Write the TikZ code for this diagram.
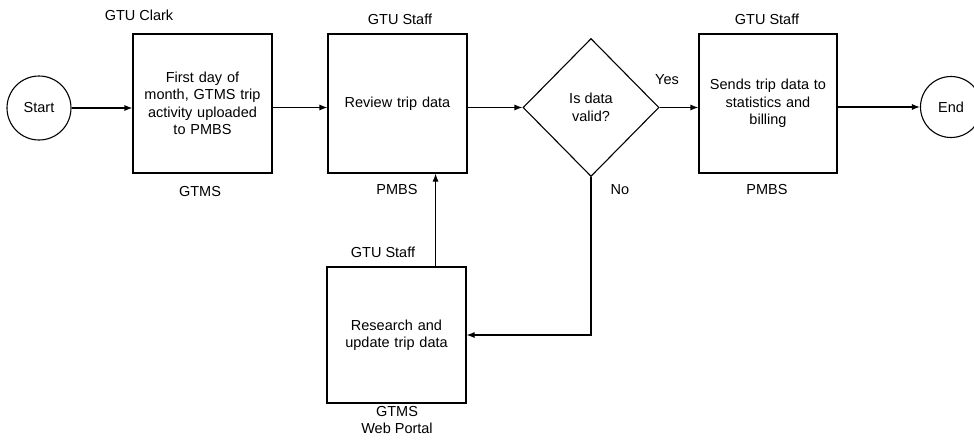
\documentclass[tikz,border=0pt]{standalone}
\usepackage{fontspec}
\setmainfont{Liberation Sans}
\usetikzlibrary{shapes.geometric,arrows.meta}
\begin{document}
\begin{tikzpicture}[x=1pt,y=-1pt,
  every node/.style={font=\fontsize{14.5}{17.5}\selectfont},
  proc/.style={draw,line width=1.1pt,minimum width=139pt,minimum height=139pt,inner sep=2pt,align=center,text width=128pt},
  term/.style={draw,circle,line width=1.1pt,inner sep=0pt},
  dec/.style={draw,diamond,line width=1.1pt,minimum width=136pt,minimum height=138pt,inner sep=0pt,align=center},
  arr/.style={line width=1.1pt,-{Latex[length=8pt,width=6pt]}},
  lbl/.style={inner sep=0pt,align=center}]
\useasboundingbox (0,0) rectangle (974,440);
\clip (0,0) rectangle (974,440);
\node[term,minimum size=64pt] (start) at (39,108) {Start};
\node[proc] (b1) at (202.5,103.5) {First day of\\month, GTMS trip\\activity uploaded\\to PMBS};
\node[proc] (b2) at (397.5,103.5) {Review trip data};
\node[dec] (d) at (591,107.5) {Is data\\valid?};
\node[proc,minimum width=138pt] (b3) at (768,103.5) {Sends trip data to\\statistics and\\billing};
\node[term,minimum size=61pt] (end) at (951,107) {End};
\node[proc,minimum height=136pt] (b4) at (396.5,335) {Research and\\update trip data};
% labels
\node[lbl] (l1) at (139,15) {GTU Clark};
\node[lbl] (l2) at (200,192) {GTMS};
\node[lbl] (l3) at (400,19) {GTU Staff};
\node[lbl] (l4) at (397,190) {PMBS};
\node[lbl] (l5) at (767,19) {GTU Staff};
\node[lbl] (l6) at (767,190) {PMBS};
\node[lbl] (l7) at (383,252) {GTU Staff};
\node[lbl] (l8) at (397,420) {GTMS\\Web Portal};
\node[lbl] (yes) at (667,80) {Yes};
\node[lbl] (no) at (620,190) {No};
% connectors
\draw[arr] (start.east) -- (start.east -| b1.west);
\draw[arr] (b1.east |- d.west) -- (b2.west |- d.west);
\draw[arr] (b2.east |- d.west) -- (d.west);
\draw[arr] (d.east) -- (d.east -| b3.west);
\draw[arr] (b3.east |- end.west) -- (end.west);
\draw[arr] (d.south) |- (b4.east);
\coordinate (up) at ([xshift=-31pt]b4.north east);
\draw[arr] (up) -- (up |- b2.south);
\end{tikzpicture}
\end{document}
